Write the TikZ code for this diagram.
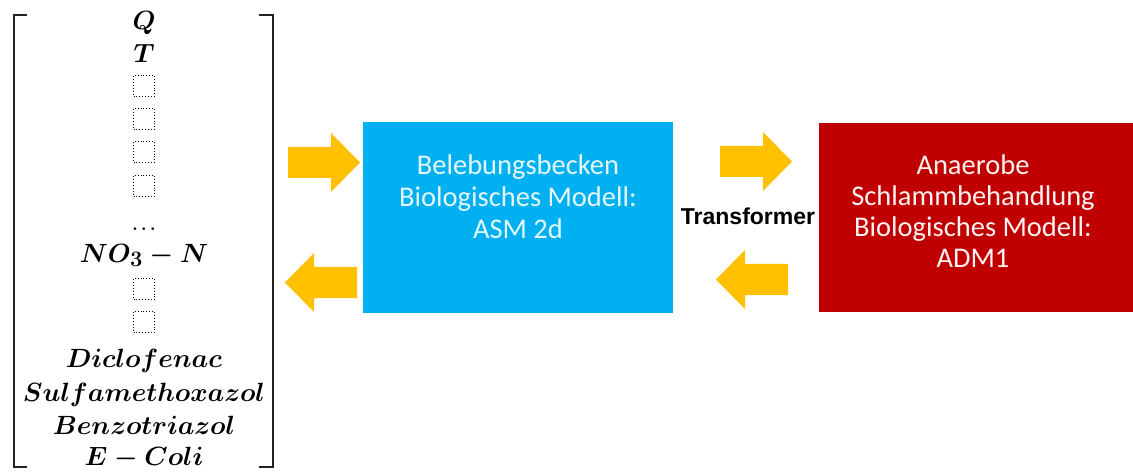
\documentclass[tikz,border=0pt]{standalone}
\usepackage{graphicx}
\usepackage{fontspec}
\setmainfont{Carlito}
\newfontfamily\labelfont{Liberation Sans}

\definecolor{arrowgold}{HTML}{FFC000}
\definecolor{asmblue}{HTML}{00B0F0}
\definecolor{admred}{HTML}{C00000}
\definecolor{bracketgray}{HTML}{222222}
\definecolor{asmtextcol}{HTML}{E4F8FF}
\definecolor{admtextcol}{HTML}{FFF2F2}

\newcommand{\varsym}[1]{\scalebox{1.06}{$#1$}}

\tikzset{
  blockarrow/.pic={
    \fill[arrowgold] (0,-15.5) -- (43,-15.5) -- (43,-29.5) -- (72,0)
      -- (43,29.5) -- (43,15.5) -- (0,15.5) -- cycle;
  },
  varname/.style={anchor=base, inner sep=0pt,
    font=\fontsize{24.88}{30}\selectfont\boldmath},
  slotbox/.style={draw=black, dotted, line width=0.9pt,
    minimum width=21pt, minimum height=21pt, inner sep=0pt},
  modelbox/.style={rectangle, inner sep=0pt, draw=none},
  boxline/.style={anchor=base, inner sep=0pt, font=\fontsize{28.5}{32}\selectfont},
  bracketline/.style={draw=bracketgray, line width=2.6pt}
}

\begin{document}
\begin{tikzpicture}[x=1pt, y=-1pt]
\useasboundingbox (0,0) rectangle (1133,473);

% state vector
\draw[bracketline] (27,15) -- (14,15) -- (14,467) -- (27,467);
\draw[bracketline] (259,15) -- (273,15) -- (273,467) -- (259,467);

\node[varname] (q)    at (144,30)  {\varsym{Q}};
\node[varname] (t)    at (144,63)  {\varsym{T}};
\node[slotbox] (s1)   at (144,86)  {};
\node[slotbox] (s2)   at (144,119) {};
\node[slotbox] (s3)   at (144,152) {};
\node[slotbox] (s4)   at (144,186) {};
\node[varname, font=\fontsize{17.28}{20}\selectfont\boldmath] (dots) at (144,231) {$\ldots$};
\node[varname] (no3)  at (144,262) {\varsym{NO_3-N}};
\node[slotbox] (s5)   at (144,289) {};
\node[slotbox] (s6)   at (144,322) {};
\node[varname] (dcf)  at (144,367) {\varsym{Diclofenac}};
\node[varname] (smx)  at (144,401) {\varsym{Sulfamethoxazol}};
\node[varname] (btz)  at (144,434) {\varsym{Benzotriazol}};
\node[varname] (eco)  at (144,465) {\varsym{E-Coli}};

% activated sludge block
\node[modelbox, fill=asmblue, minimum width=310pt, minimum height=191pt]
  (asm) at (518,217.5) {};
\node[boxline, text=asmtextcol] (asm1) at (518,175) {Belebungsbecken};
\node[boxline, text=asmtextcol] (asm2) at (518,207) {Biologisches Modell:};
\node[boxline, text=asmtextcol] (asm3) at (518,239) {ASM 2d};

% anaerobic digestion block
\node[modelbox, fill=admred, minimum width=314pt, minimum height=189pt]
  (adm) at (976,217.5) {};
\node[boxline, text=admtextcol] (adm1) at (973,175) {Anaerobe};
\node[boxline, text=admtextcol] (adm2) at (973,206) {Schlammbehandlung};
\node[boxline, text=admtextcol] (adm3) at (973,237) {Biologisches Modell:};
\node[boxline, text=admtextcol] (adm4) at (973,268) {ADM1};

\node[anchor=base, inner sep=0pt, font=\labelfont\bfseries\fontsize{23}{26}\selectfont]
  (trans) at (748,225) {Transformer};

% exchange arrows
\pic at (288,162.5) {blockarrow};
\pic[xscale=-1] at (357,282.5) {blockarrow};
\pic at (720,161.5) {blockarrow};
\pic[xscale=-1] at (788,279.5) {blockarrow};
\end{tikzpicture}
\end{document}
